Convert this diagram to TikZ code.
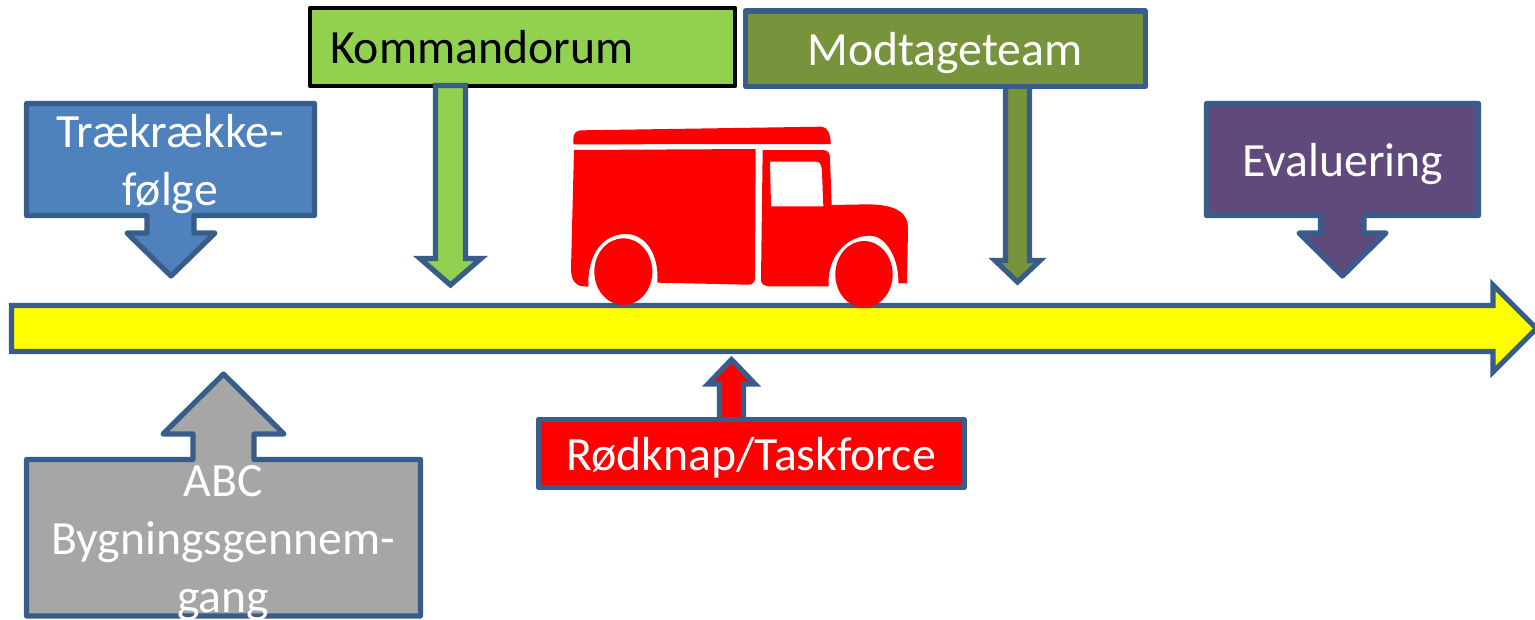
\documentclass[tikz,border=0pt]{standalone}
\usepackage{fontspec}
\setmainfont{Carlito}
\definecolor{edgeblue}{HTML}{385D8A}
\definecolor{fillblue}{HTML}{4F81BD}
\definecolor{fillpurple}{HTML}{604A7B}
\definecolor{fillgray}{HTML}{A6A6A6}
\definecolor{fillgreen}{HTML}{92D050}
\definecolor{fillolive}{HTML}{77933C}
\definecolor{fillyellow}{HTML}{FFFF00}
\definecolor{fillred}{HTML}{FF0000}
\tikzset{
  shapeedge/.style={draw=edgeblue,line width=3.9pt,line join=round},
  label/.style={font=\fontsize{35.8}{43.5}\selectfont,inner sep=0pt,outer sep=0pt,text=white,anchor=base,align=center},
}
\begin{document}
\begin{tikzpicture}[x=0.75pt,y=-0.75pt]
\useasboundingbox (0,0) rectangle (1535,619);
% timeline arrow
\draw[shapeedge,fill=fillyellow,line join=miter] (11.5,305.5) -- (1493,305.5) -- (1493,285) -- (1536.5,328.5) -- (1493,372) -- (1493,351.5) -- (11.5,351.5) -- cycle;
% Traekraekkefoelge
\draw[shapeedge,fill=fillblue] (26.5,103.5) -- (314.5,103.5) -- (314.5,215.5) -- (194,215.5) -- (194,233) -- (215,233) -- (171,276) -- (127,233) -- (147,233) -- (147,215.5) -- (26.5,215.5) -- cycle;
% Kommandorum
\draw[draw=black,line width=3.2pt,fill=fillgreen,line join=round] (310,8) rectangle (735,86);
\draw[shapeedge,fill=fillgreen,line join=miter] (435.5,85.5) -- (465.5,85.5) -- (465.5,258.5) -- (481,258.5) -- (450.5,285) -- (420,258.5) -- (435.5,258.5) -- cycle;
% Modtageteam
\draw[shapeedge,fill=fillolive,line join=miter] (1005.5,86) -- (1029.5,86) -- (1029.5,260.5) -- (1040,260.5) -- (1017.5,282) -- (995,260.5) -- (1005.5,260.5) -- cycle;
\draw[shapeedge,fill=fillolive] (745.5,11) rectangle (1145.5,86.5);
% Evaluering
\draw[shapeedge,fill=fillpurple] (1206.5,103.5) -- (1478.5,103.5) -- (1478.5,215.5) -- (1364,215.5) -- (1364,233) -- (1386,233) -- (1342.5,276) -- (1299,233) -- (1320.5,233) -- (1320.5,215.5) -- (1206.5,215.5) -- cycle;
% Roedknap
\draw[shapeedge,fill=fillred,line join=miter] (719.5,420) -- (719.5,384) -- (708,384) -- (731.5,359.5) -- (755,384) -- (743.5,384) -- (743.5,420) -- cycle;
\draw[shapeedge,fill=fillred] (538.5,419.5) rectangle (964.5,487.5);
% ABC
\draw[shapeedge,fill=fillgray] (26.5,459.5) -- (193,459.5) -- (193,434) -- (163,434) -- (223.5,374) -- (284,434) -- (254,434) -- (254,459.5) -- (420.5,459.5) -- (420.5,616) -- (26.5,616) -- cycle;
% van
\begin{scope}[shift={(550,110)},x=0.25pt,y=-0.25pt]
\fill[fillred] (70,103) -- (70,85) .. controls (70,70) and (80,62) .. (92,61) -- (815,50) .. controls (832,52) and (842,70) .. (842,102) -- cycle;
\fill[fillred] (72,120) -- (617,117) -- (615,505) .. controls (615,518) and (605,524) .. (595,524) -- (322,518) .. controls (328,430) and (285,372) .. (228,372) .. controls (160,372) and (112,430) .. (115,530) -- (100,529) .. controls (75,527) and (63,510) .. (63,475) -- cycle;
\fill[fillred,even odd rule] (638,120) -- (820,120) .. controls (834,121) and (840,130) .. (840,145) -- (845,285) -- (950,283) .. controls (1040,283) and (1075,310) .. (1074,355) -- (1071,520) -- (1045,520) .. controls (1048,450) and (1010,377) .. (960,377) .. controls (890,377) and (830,440) .. (836,529) -- (665,529) .. controls (640,530) and (633,520) .. (633,510) -- cycle
  (660,155) -- (800,155) .. controls (812,155) and (815,170) .. (816,185) -- (820,289) -- (663,289) -- cycle;
\fill[fillred] (220,485) ellipse [x radius=87,y radius=100];
\fill[fillred] (942,493) ellipse [x radius=86,y radius=100];
\end{scope}
% labels
\node[label] (traek) at (170,205) {Trækrække-\\følge};
\node[label,text=black,anchor=base west] (komm) at (330,63) {Kommandorum};
\node[label] (modt) at (945,65) {Modtageteam};
\node[label] (eval) at (1343,176) {Evaluering};
\node[label] (roed) at (751,470) {Rødknap/Taskforce};
\node[label] (abc) at (223,612.5) {ABC\\Bygningsgennem-\\gang};
\end{tikzpicture}
\end{document}
